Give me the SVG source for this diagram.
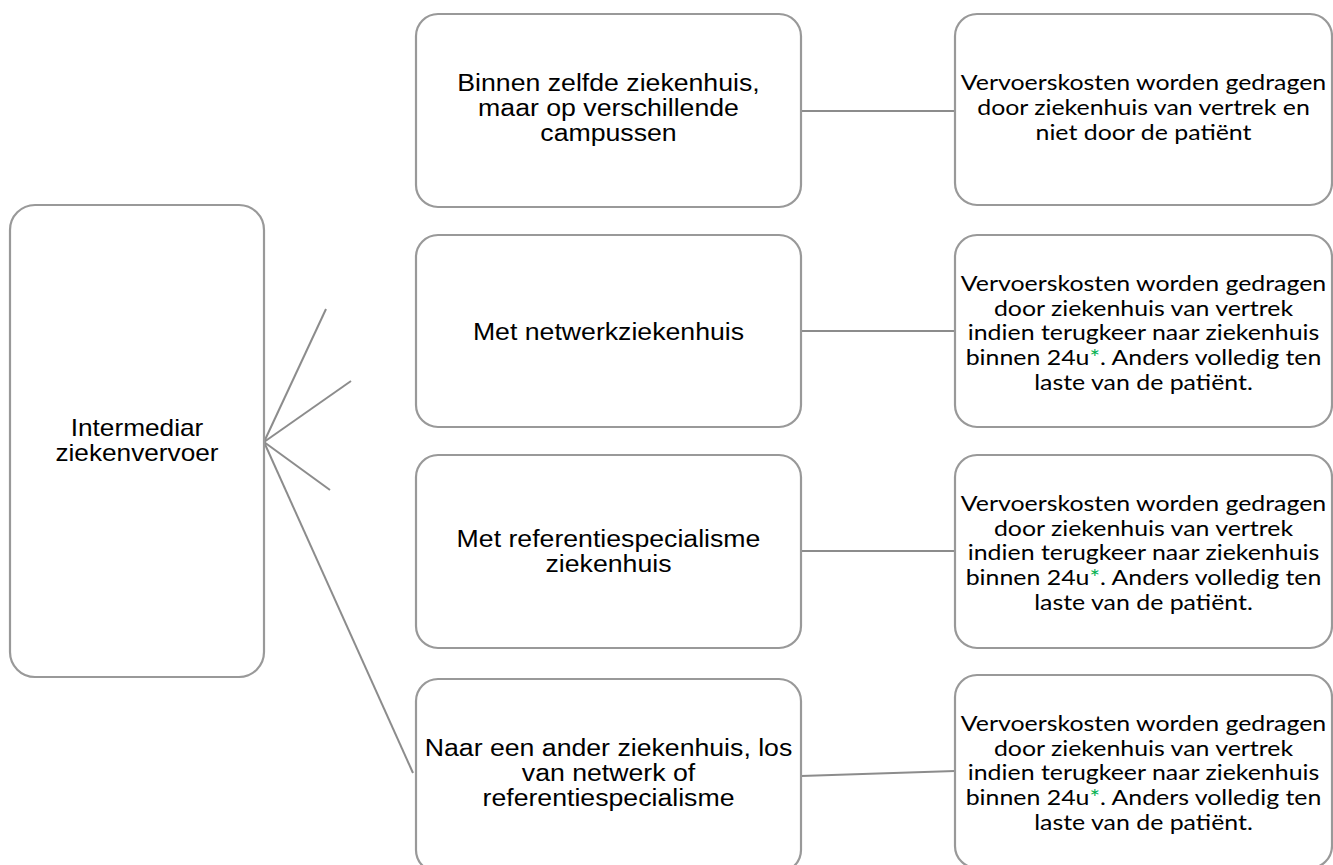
<svg xmlns="http://www.w3.org/2000/svg" width="1333" height="865" viewBox="0 0 1333 865">
<style>
.box{fill:#fff;stroke:#999;stroke-width:2.2}
.ln{stroke:#8c8c8c;stroke-width:2;fill:none}
.a{font-family:"Liberation Sans",Arial,sans-serif;font-size:23px;fill:#000;text-anchor:middle}
.c{font-family:Lato,"Liberation Sans",sans-serif;font-size:21.5px;fill:#000;text-anchor:middle}
.g{fill:#00b050}
</style>
<rect width="1333" height="865" fill="#fff"/>
<g id="connectors">
<line class="ln" x1="264" y1="442" x2="326" y2="309"/>
<line class="ln" x1="264" y1="442" x2="351" y2="381"/>
<line class="ln" x1="264" y1="442" x2="330" y2="490"/>
<line class="ln" x1="264" y1="442" x2="413" y2="773"/>
<line class="ln" x1="801" y1="111" x2="955" y2="111"/>
<line class="ln" x1="801" y1="331" x2="955" y2="331"/>
<line class="ln" x1="801" y1="551" x2="955" y2="551"/>
<line class="ln" x1="801" y1="776" x2="955" y2="771"/>
</g>
<g id="root">
<rect class="box" x="10" y="205" width="254" height="472" rx="25"/>
<g transform="translate(137 0) scale(1.14 1)">
<text class="a" x="0" y="436">Intermediar</text>
<text class="a" x="0" y="461">ziekenvervoer</text>
</g>
</g>
<g id="n1">
<rect class="box" x="416" y="14" width="385" height="193" rx="22"/>
<g transform="translate(608.5 0) scale(1.16 1)">
<text class="a" x="0" y="91">Binnen zelfde ziekenhuis,</text>
<text class="a" x="0" y="116">maar op verschillende</text>
<text class="a" x="0" y="141">campussen</text>
</g>
</g>
<g id="n2">
<rect class="box" x="416" y="235" width="385" height="192" rx="22"/>
<g transform="translate(608.5 0) scale(1.16 1)">
<text class="a" x="0" y="340">Met netwerkziekenhuis</text>
</g>
</g>
<g id="n3">
<rect class="box" x="416" y="455" width="385" height="193" rx="22"/>
<g transform="translate(608.5 0) scale(1.16 1)">
<text class="a" x="0" y="547">Met referentiespecialisme</text>
<text class="a" x="0" y="572">ziekenhuis</text>
</g>
</g>
<g id="n4">
<rect class="box" x="416" y="679" width="385" height="193" rx="22"/>
<g transform="translate(608.5 0) scale(1.16 1)">
<text class="a" x="0" y="756">Naar een ander ziekenhuis, los</text>
<text class="a" x="0" y="781">van netwerk of</text>
<text class="a" x="0" y="806">referentiespecialisme</text>
</g>
</g>
<g id="r1">
<rect class="box" x="955" y="14" width="377" height="191" rx="22"/>
<g transform="translate(1143.5 0) scale(1.158 1)">
<text class="c" x="0" y="90">Vervoerskosten worden gedragen</text>
<text class="c" x="0" y="115">door ziekenhuis van vertrek en</text>
<text class="c" x="0" y="140">niet door de patiënt</text>
</g>
</g>
<g id="r2">
<rect class="box" x="955" y="235" width="377" height="192" rx="22"/>
<g transform="translate(1143.5 0) scale(1.158 1)">
<text class="c" x="0" y="291">Vervoerskosten worden gedragen</text>
<text class="c" x="0" y="316">door ziekenhuis van vertrek</text>
<text class="c" x="0" y="340">indien terugkeer naar ziekenhuis</text>
<text class="c" x="0" y="365">binnen 24u<tspan class="g">*</tspan>. Anders volledig ten</text>
<text class="c" x="0" y="390">laste van de patiënt.</text>
</g>
</g>
<g id="r3">
<rect class="box" x="955" y="455" width="377" height="193" rx="22"/>
<g transform="translate(1143.5 0) scale(1.158 1)">
<text class="c" x="0" y="511">Vervoerskosten worden gedragen</text>
<text class="c" x="0" y="536">door ziekenhuis van vertrek</text>
<text class="c" x="0" y="560">indien terugkeer naar ziekenhuis</text>
<text class="c" x="0" y="585">binnen 24u<tspan class="g">*</tspan>. Anders volledig ten</text>
<text class="c" x="0" y="610">laste van de patiënt.</text>
</g>
</g>
<g id="r4">
<rect class="box" x="955" y="675" width="377" height="193" rx="22"/>
<g transform="translate(1143.5 0) scale(1.158 1)">
<text class="c" x="0" y="731">Vervoerskosten worden gedragen</text>
<text class="c" x="0" y="756">door ziekenhuis van vertrek</text>
<text class="c" x="0" y="780">indien terugkeer naar ziekenhuis</text>
<text class="c" x="0" y="805">binnen 24u<tspan class="g">*</tspan>. Anders volledig ten</text>
<text class="c" x="0" y="830">laste van de patiënt.</text>
</g>
</g>
</svg>
